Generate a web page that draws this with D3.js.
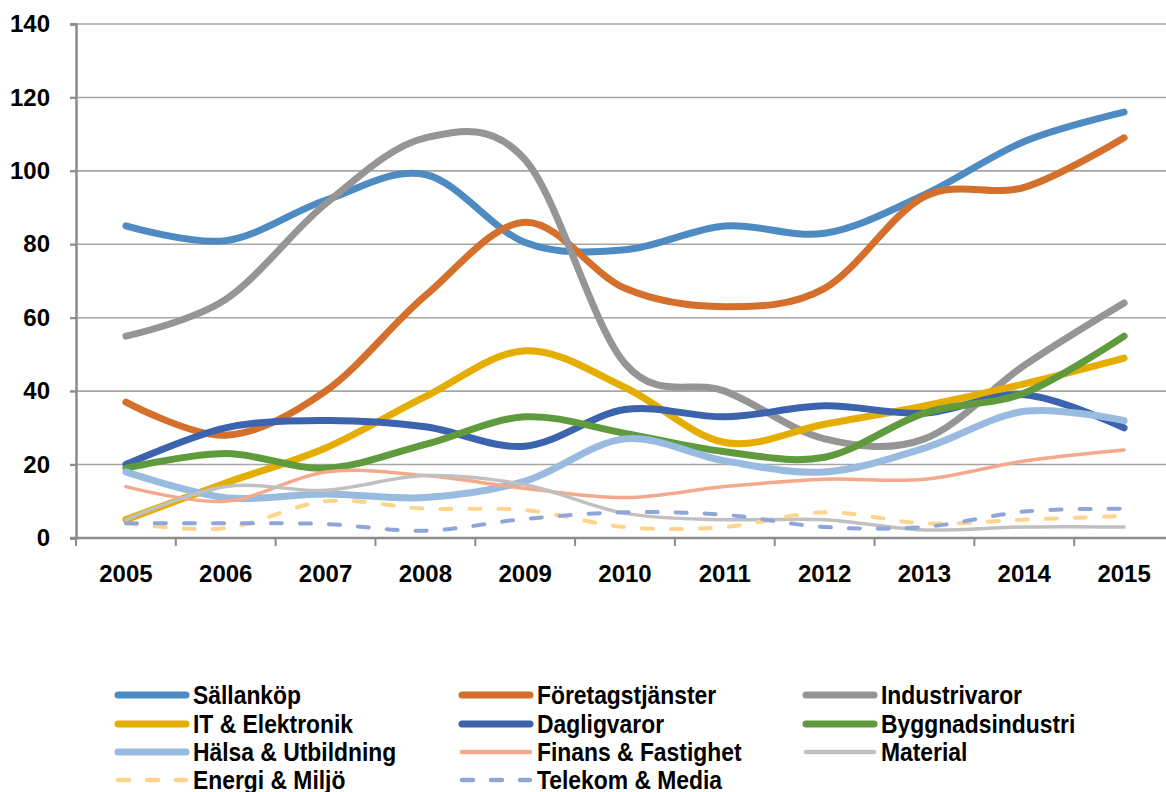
<!DOCTYPE html>
<html>
<head>
<meta charset="utf-8">
<script src="https://cdn.jsdelivr.net/npm/d3@7"></script>
<style>
  html, body { margin: 0; padding: 0; background: #fff; }
  svg { display: block; }
  text { font-family: "Liberation Sans", Arial, sans-serif; font-weight: bold; fill: #000; }
</style>
</head>
<body>
<svg id="chart" width="1166" height="792"></svg>
<script>
const years = ["2005","2006","2007","2008","2009","2010","2011","2012","2013","2014","2015"];
const yTicks = [0, 20, 40, 60, 80, 100, 120, 140];

const sallankop   = [85, 81, 92, 99, 80.5, 78.5, 85, 83, 93.5, 108, 116];
const foretag     = [37, 28, 40, 66, 86, 68, 63, 68, 93, 95.5, 109];
const industri    = [55, 65, 91, 109, 103, 47.5, 40, 27, 27, 47, 64];
const itElektro   = [5, 15, 24.5, 38.5, 51, 41, 26, 31, 36, 42, 49];
const daglig      = [20, 30, 32, 30.3, 25, 35, 33, 36, 34, 39, 30];
const bygg        = [19, 23, 19, 25.5, 33, 28.5, 23.5, 22, 34, 39.5, 55];
const halsa       = [18, 11, 12, 11, 15.5, 27, 21, 18, 24.5, 34.5, 32];
const finans      = [14, 10, 18, 17, 13.5, 11, 14, 16, 16, 21, 24];
const material    = [5, 14, 13, 17, 14.5, 6.7, 5, 5, 2.2, 3, 3];
const energi      = [4, 2.7, 10, 8, 7.6, 3, 3, 7, 4, 5, 6];
const telekom     = [4, 4, 3.8, 2, 5.2, 7, 6.3, 3, 3, 7.2, 8];

const seriesNames = ["Sällanköp","Företagstjänster","Industrivaror","IT & Elektronik","Dagligvaror","Byggnadsindustri","Hälsa & Utbildning","Finans & Fastighet","Material","Energi & Miljö","Telekom & Media"];
const seriesValues = [sallankop, foretag, industri, itElektro, daglig, bygg, halsa, finans, material, energi, telekom];
const seriesColors = ["#4F8BC3","#D4702B","#959595","#E5AD00","#3C63AD","#5F9A3C","#99BBE0","#F4A98C","#C0C0C0","#FFD48C","#8FA6D8"];
const seriesWidths = [7, 7, 7, 7, 7, 7, 7, 3.5, 3.5, 4, 4];
const seriesDashed = [false,false,false,false,false,false,false,false,false,true,true];

const svg = d3.select("#chart");
const plotLeft = 76, plotTop = 24, plotBottom = 538, plotRight = 1174;

const x = d3.scaleBand().domain(years).range([plotLeft, plotRight]);
const y = d3.scaleLinear().domain([0, 140]).range([plotBottom, plotTop]);
const cx = d => x(d) + x.bandwidth() / 2;

// gridlines
svg.append("g")
  .selectAll("line")
  .data(yTicks.filter(v => v > 0))
  .join("line")
  .attr("x1", plotLeft - 6).attr("x2", plotRight)
  .attr("y1", d => y(d)).attr("y2", d => y(d))
  .attr("stroke", "#A6A6A6").attr("stroke-width", 1.6);

// y axis
const yAxis = svg.append("g")
  .attr("transform", `translate(${plotLeft},0)`)
  .call(d3.axisLeft(y).tickValues(yTicks).tickSize(6).tickPadding(20).tickFormat(d3.format("d")));
yAxis.select(".domain").attr("stroke", "#8C8C8C").attr("stroke-width", 2.5);
yAxis.selectAll(".tick line").attr("stroke", "#8C8C8C").attr("stroke-width", 2);
yAxis.selectAll(".tick text").attr("font-size", 24).attr("font-family", "Liberation Sans, Arial, sans-serif").attr("font-weight", "bold").attr("fill", "#000");

// x axis line
svg.append("line")
  .attr("x1", plotLeft - 6).attr("x2", plotRight)
  .attr("y1", plotBottom).attr("y2", plotBottom)
  .attr("stroke", "#8C8C8C").attr("stroke-width", 2.5);

// x ticks at band boundaries
const boundaries = years.map(d => x(d)).concat([plotRight]);
svg.append("g").selectAll("line")
  .data(boundaries)
  .join("line")
  .attr("x1", d => d).attr("x2", d => d)
  .attr("y1", plotBottom).attr("y2", plotBottom + 8)
  .attr("stroke", "#8C8C8C").attr("stroke-width", 2);

// x labels
svg.append("g").selectAll("text")
  .data(years)
  .join("text")
  .attr("x", d => cx(d))
  .attr("y", 582)
  .attr("text-anchor", "middle")
  .attr("font-size", 24)
  .text(d => d);

// lines
const line = d3.line()
  .x((v, i) => cx(years[i]))
  .y(v => y(v))
  .curve(d3.curveCardinal.tension(0));

const lines = svg.append("g");
seriesValues.forEach((vals, k) => {
  lines.append("path")
    .datum(vals)
    .attr("d", line)
    .attr("fill", "none")
    .attr("stroke", seriesColors[k])
    .attr("stroke-width", seriesWidths[k])
    .attr("stroke-linecap", "round")
    .attr("stroke-linejoin", "round")
    .attr("stroke-dasharray", seriesDashed[k] ? "11,18" : null);
});

// legend
const legCols = [115, 459, 803];
const legRowY = [695, 724, 752, 780];
const legend = svg.append("g");
seriesNames.forEach((name, k) => {
  const col = k % 3, row = Math.floor(k / 3);
  const x0 = legCols[col], yy = legRowY[row];
  legend.append("line")
    .attr("x1", x0 + 3).attr("x2", x0 + 71)
    .attr("y1", yy).attr("y2", yy)
    .attr("stroke", seriesColors[k])
    .attr("stroke-width", seriesWidths[k] === 7 ? 7 : 4.5)
    .attr("stroke-linecap", "round")
    .attr("stroke-dasharray", seriesDashed[k] ? "11,18" : null);
  legend.append("text")
    .attr("transform", `translate(${x0 + 78},${yy + 9}) scale(0.88,1)`)
    .attr("font-size", 26)
    .text(name);
});
</script>
</body>
</html>
